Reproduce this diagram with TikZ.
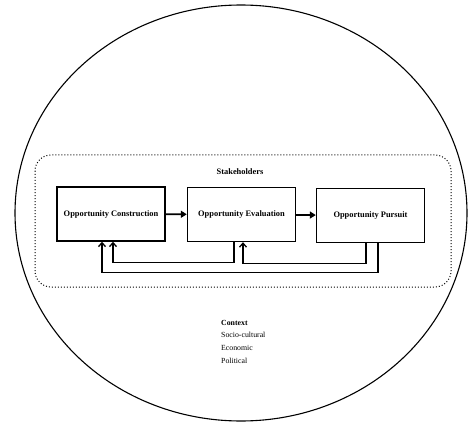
\documentclass[tikz,border=0pt]{standalone}
\usepackage{fontspec}
\setmainfont{Liberation Serif}
\usetikzlibrary{arrows.meta}

\begin{document}
\begin{tikzpicture}[x=1pt, y=-1pt, black,
		stageBox/.style={draw, line width=1.4pt, minimum width=108pt, minimum height=54pt, inner sep=0pt, font=\fontsize{8.4}{10}\selectfont\bfseries},
		flowArrow/.style={line width=1.8pt, -{Triangle[length=6pt, width=7pt]}},
		loopArrow/.style={line width=1.3pt, -{Straight Barb[length=4pt, width=7pt]}}]
	\useasboundingbox (0,0) rectangle (474,425);
	
	% context circle
	\draw[line width=1.1pt] (241,213) ellipse [x radius=226pt, y radius=208pt];
	
	% stakeholders area
	\draw[line width=1pt, dotted, rounded corners=16pt] (35,155) rectangle (451,287);
	\node[font=\fontsize{8.4}{10}\selectfont\bfseries] (stake) at (240,172) {Stakeholders};
	
	% draw the three stages
	\node[stageBox] (construct) at (111,214) {Opportunity Construction};
	\node[stageBox] (evaluate) at (241.5,214.5) {Opportunity Evaluation};
	\node[stageBox] (pursue) at (370.5,215.5) {Opportunity Pursuit};
	
	\draw[flowArrow] (construct) -- (evaluate);
	\draw[flowArrow] (evaluate) -- (pursue);
	
	% draw feedback loops
	\draw[loopArrow] ([xshift=-7.5pt]evaluate.south) -- ++(0,20) -| ([xshift=2pt]construct.south);
	\draw[loopArrow] ([xshift=-4.5pt]pursue.south) -- ++(0,20) -| ([xshift=1.5pt]evaluate.south);
	\draw[loopArrow] ([xshift=7.5pt]pursue.south) -- ++(0,29) -| ([xshift=-9pt]construct.south);
	
	% context labels
	\node[anchor=north west, align=left, inner sep=0pt, font=\fontsize{7.8}{12.6}\selectfont] (context) at (221,320)
		{\textbf{Context}\\Socio-cultural\\Economic\\Political};
\end{tikzpicture}
\end{document}
